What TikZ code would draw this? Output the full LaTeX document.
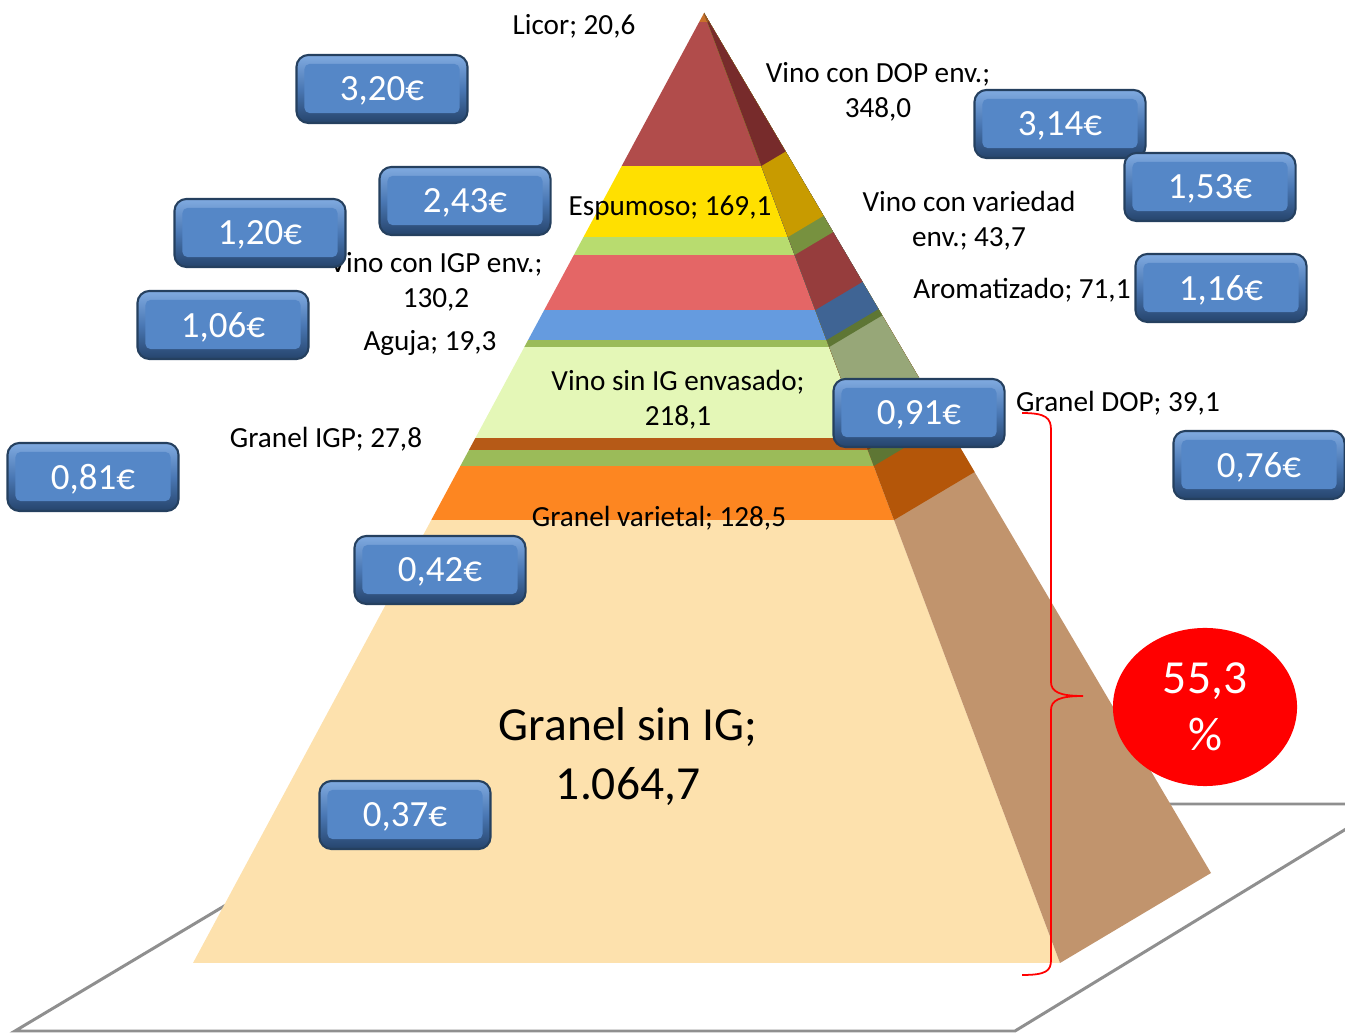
\documentclass[tikz,border=0pt]{standalone}
\usepackage{fontspec}
\setmainfont{Carlito}
\usepackage{tikz}
\usetikzlibrary{shapes.geometric}
\usetikzlibrary{calc}
\definecolor{licorf}{HTML}{C8702A}
\definecolor{licors}{HTML}{A05A1E}
\definecolor{dopf}{HTML}{B14C4B}
\definecolor{dops}{HTML}{772B2B}
\definecolor{espf}{HTML}{FFE000}
\definecolor{esps}{HTML}{C89B00}
\definecolor{varf}{HTML}{B8DC6F}
\definecolor{vars}{HTML}{77913F}
\definecolor{igpf}{HTML}{E46666}
\definecolor{igps}{HTML}{963D3D}
\definecolor{aromf}{HTML}{659BDF}
\definecolor{aroms}{HTML}{3F6494}
\definecolor{agujaf}{HTML}{9BBB59}
\definecolor{agujas}{HTML}{5E7634}
\definecolor{sinigf}{HTML}{E4F7B7}
\definecolor{sinigs}{HTML}{97A778}
\definecolor{grigpf}{HTML}{B65A17}
\definecolor{grigps}{HTML}{7C3B0C}
\definecolor{grdopf}{HTML}{9BBB59}
\definecolor{grdops}{HTML}{5E7634}
\definecolor{grvarf}{HTML}{FD8621}
\definecolor{grvars}{HTML}{B45609}
\definecolor{grsinf}{HTML}{FDE1AD}
\definecolor{grsins}{HTML}{C1946D}
\definecolor{boxtop}{HTML}{80AAE0}
\definecolor{boxmid}{HTML}{4A78B4}
\definecolor{boxbottom}{HTML}{26446C}
\definecolor{boxface}{HTML}{5587C7}
\definecolor{boxedge}{HTML}{25405F}
\definecolor{floorgray}{HTML}{8F8F8F}
\tikzstyle{floor} = [draw=floorgray, line width=0.85pt]
\tikzstyle{lbl} = [font=\fontsize{8.3}{10}\selectfont, align=center, inner sep=0pt, yshift=-0.02cm]
\tikzstyle{biglbl} = [font=\fontsize{13.5}{16.8}\selectfont, align=center, inner sep=0pt, yshift=-0.02cm]
\tikzstyle{pricebox} = [rectangle, rounded corners=0.12cm, minimum width=1.71cm,
    minimum height=0.68cm, inner sep=0pt, draw=boxedge, line width=0.6pt,
    top color=boxtop, bottom color=boxbottom, middle color=boxmid, text=white,
    font=\fontsize{10.5}{12}\selectfont, text depth=0pt,
    path picture={\fill[boxface, rounded corners=0.05cm]
      ([xshift=0.08cm,yshift=-0.09cm]path picture bounding box.north west) rectangle
      ([xshift=-0.08cm,yshift=0.1cm]path picture bounding box.south east);}]
\tikzstyle{pct} = [ellipse, fill=red, text=white, minimum width=1.84cm,
    minimum height=1.58cm, inner sep=0pt, align=center,
    font=\fontsize{13.5}{16.2}\selectfont]
\tikzstyle{bracered} = [draw=red, line width=0.5pt]

\begin{document}
\begin{tikzpicture}[x=0.01cm, y=-0.01cm]
    \useasboundingbox (0,0) rectangle (1345,1034);
    % floor
    \begin{scope}
    \clip (0,0) rectangle (1345,1034);
    \draw [floor] (15,1031) -- (1015,1031) -- (1387,804) -- (395,804) -- cycle;
    \end{scope}
    % pyramid corners
    \coordinate (apex) at (704,13);
    \coordinate (bl) at (193,963);
    \coordinate (br) at (1060,963);
    \coordinate (bs) at (1211,873);
    % front face
    \begin{scope}
    \clip (apex) -- (bl) -- (br) -- cycle;
    \fill [licorf] (180,0) rectangle (1070,22);
    \fill [dopf] (180,22) rectangle (1070,166);
    \fill [espf] (180,166) rectangle (1070,237);
    \fill [varf] (180,237) rectangle (1070,255);
    \fill [igpf] (180,255) rectangle (1070,310);
    \fill [aromf] (180,310) rectangle (1070,340);
    \fill [agujaf] (180,340) rectangle (1070,347);
    \fill [sinigf] (180,347) rectangle (1070,438);
    \fill [grigpf] (180,438) rectangle (1070,450);
    \fill [grdopf] (180,450) rectangle (1070,466);
    \fill [grvarf] (180,466) rectangle (1070,520);
    \fill [grsinf] (180,520) rectangle (1070,970);
    \end{scope}
    % side face
    \fill [grsins] (apex) -- (br) -- (bs) -- cycle;
    \fill [grvars] (apex) -- ($(apex)!0.5337!(br)$) -- ($(apex)!0.5337!(bs)$) -- cycle;
    \fill [grdops] (apex) -- ($(apex)!0.4768!(br)$) -- ($(apex)!0.4768!(bs)$) -- cycle;
    \fill [grigps] (apex) -- ($(apex)!0.46!(br)$) -- ($(apex)!0.46!(bs)$) -- cycle;
    \fill [sinigs] (apex) -- ($(apex)!0.4474!(br)$) -- ($(apex)!0.4474!(bs)$) -- cycle;
    \fill [agujas] (apex) -- ($(apex)!0.3516!(br)$) -- ($(apex)!0.3516!(bs)$) -- cycle;
    \fill [aroms] (apex) -- ($(apex)!0.3442!(br)$) -- ($(apex)!0.3442!(bs)$) -- cycle;
    \fill [igps] (apex) -- ($(apex)!0.3126!(br)$) -- ($(apex)!0.3126!(bs)$) -- cycle;
    \fill [vars] (apex) -- ($(apex)!0.2547!(br)$) -- ($(apex)!0.2547!(bs)$) -- cycle;
    \fill [esps] (apex) -- ($(apex)!0.2358!(br)$) -- ($(apex)!0.2358!(bs)$) -- cycle;
    \fill [dops] (apex) -- ($(apex)!0.161!(br)$) -- ($(apex)!0.161!(bs)$) -- cycle;
    \fill [licors] (apex) -- ($(apex)!0.0095!(br)$) -- ($(apex)!0.0095!(bs)$) -- cycle;
    % brace
    \coordinate (bracetop) at (1022,413);
    \coordinate (bracetip) at (1083,696);
    \coordinate (bracebot) at (1022,975);
    \draw [bracered] (bracetop) .. controls (1046,413) and (1051,418) .. (1051,430)
        -- (1051,682) .. controls (1051,692) and (1060,696) .. (bracetip)
        .. controls (1060,696) and (1051,700) .. (1051,710)
        -- (1051,960) .. controls (1051,971) and (1046,975) .. (bracebot);
    % labels
    \node [lbl] (licor) at (574,24) {Licor; 20,6};
    \node [lbl] (dop) at (878,90) {Vino con DOP env.;\\348,0};
    \node [lbl] (espumoso) at (670,206) {Espumoso; 169,1};
    \node [lbl] (variedad) at (969,219) {Vino con variedad\\env.; 43,7};
    \node [lbl] (igpenv) at (436,280) {Vino con IGP env.;\\130,2};
    \node [lbl] (aromatizado) at (1022,288) {Aromatizado; 71,1};
    \node [lbl] (aguja) at (430,341) {Aguja; 19,3};
    \node [lbl] (sinigenv) at (678,398) {Vino sin IG envasado;\\218,1};
    \node [lbl] (grandop) at (1118,401) {Granel DOP; 39,1};
    \node [lbl] (granigp) at (326,437) {Granel IGP; 27,8};
    \node [lbl] (granvar) at (659,516) {Granel varietal; 128,5};
    \node [biglbl] (gransinig) at (628,755) {Granel sin IG;\\1.064,7};
    % prices
    \node [pricebox] (p320) at (382,89) {3,20€};
    \node [pricebox] (p314) at (1060,124) {3,14€};
    \node [pricebox] (p243) at (465,201) {2,43€};
    \node [pricebox] (p153) at (1210,187) {1,53€};
    \node [pricebox] (p120) at (260,233) {1,20€};
    \node [pricebox] (p116) at (1221,288) {1,16€};
    \node [pricebox] (p106) at (223,325) {1,06€};
    \node [pricebox] (p091) at (919,413) {0,91€};
    \node [pricebox] (p076) at (1259,465) {0,76€};
    \node [pricebox] (p081) at (93,477) {0,81€};
    \node [pricebox] (p042) at (440,570) {0,42€};
    \node [pricebox] (p037) at (405,815) {0,37€};
    % share
    \node [pct] (share) at (1205,707) {55,3\\\%};
\end{tikzpicture}
\end{document}
